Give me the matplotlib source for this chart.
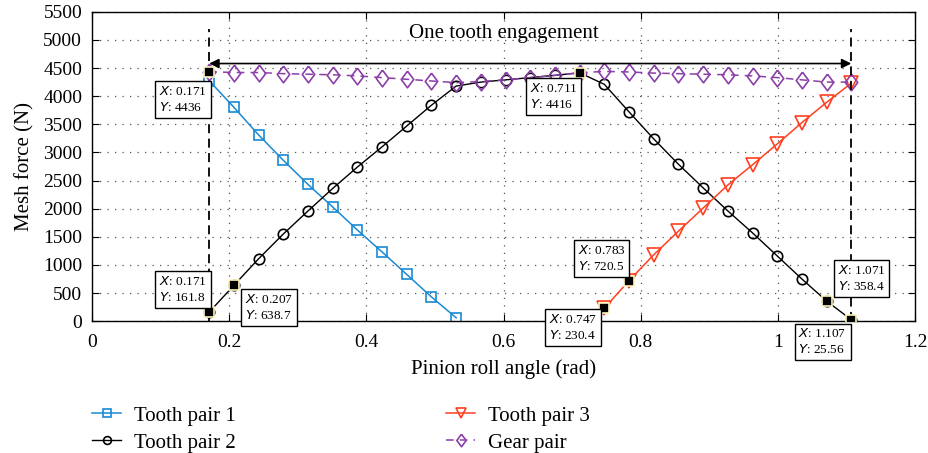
import numpy as np
import matplotlib.pyplot as plt

plt.rcParams['font.family'] = ['Liberation Serif', 'DejaVu Serif']

# Mesh force samples along the pinion roll angle
x_pair1 = [0.171, 0.207, 0.243, 0.279, 0.315, 0.351, 0.387, 0.423, 0.459, 0.495, 0.531]
f_pair1 = [4274, 3800, 3310, 2860, 2430, 2030, 1620, 1230, 830, 430, 60]

x_pair2 = [0.171, 0.207, 0.243, 0.279, 0.315, 0.351, 0.387, 0.423, 0.459, 0.495,
           0.531, 0.567, 0.603, 0.639, 0.675, 0.711, 0.747, 0.783, 0.819, 0.855,
           0.891, 0.927, 0.963, 0.999, 1.035, 1.071, 1.107]
f_pair2 = [161.8, 638.7, 1110, 1550, 1960, 2360, 2740, 3100, 3470, 3840,
           4180, 4250, 4290, 4330, 4370, 4416, 4210, 3720, 3240, 2790,
           2370, 1960, 1570, 1160, 750, 358.4, 25.56]

x_pair3 = [0.747, 0.783, 0.819, 0.855, 0.891, 0.927, 0.963, 0.999, 1.035, 1.071, 1.107]
f_pair3 = [230.4, 720.5, 1180, 1600, 2010, 2420, 2780, 3150, 3530, 3890, 4230]

x_gear = x_pair2
f_gear = [4436, 4420, 4420, 4400, 4390, 4380, 4360, 4330, 4300, 4270,
          4240, 4260, 4290, 4330, 4370, 4416, 4440, 4430, 4410, 4400,
          4390, 4380, 4360, 4330, 4290, 4250, 4250]

# data tips: (x, y, text offset in points)
tips_x = [0.171, 0.171, 0.207, 0.711, 0.783, 0.747, 1.071, 1.107]
tips_y = [4436, 161.8, 638.7, 4416, 720.5, 230.4, 358.4, 25.56]
tips_off = [(-36, -20), (-36, 16), (8, -16), (-36, -17), (-37, 16), (-40, -14), (8, 16), (-38, -16)]

engage_start, engage_end = 0.171, 1.107

fig = plt.figure(figsize=(9.29, 4.53), dpi=100)
ax = fig.add_axes([0.099, 0.291, 0.886, 0.683])

blue = '#1a8ad4'
red = '#ff4020'
purple = '#8b3fa8'
diamond = [(0, 1), (0.75, 0), (0, -1), (-0.75, 0), (0, 1)]

l1, = ax.plot(x_pair1, f_pair1, color=blue, lw=1.1, marker='s', ms=7,
              mfc='none', mec=blue, mew=1.2, label='Tooth pair 1')
l2, = ax.plot(x_pair2, f_pair2, color='black', lw=1.0, marker='o', ms=7.5,
              mfc='none', mec='black', mew=1.2, label='Tooth pair 2')
l3, = ax.plot(x_pair3, f_pair3, color=red, lw=1.1, marker='v', ms=10.5,
              mfc='none', mec=red, mew=1.2, label='Tooth pair 3')
l4, = ax.plot(x_gear, f_gear, color=purple, lw=1.1, ls=(0, (5, 4)), marker=diamond, ms=12,
              mfc='none', mec=purple, mew=1.2, label='Gear pair')

# engagement boundaries and arrow
for xv in (engage_start, engage_end):
    ax.plot([xv, xv], [0, 5200], color='black', lw=1.3, ls=(0, (5, 3)), zorder=4)
ax.annotate('', xy=(engage_start, 4580), xytext=(engage_end, 4580),
            arrowprops=dict(arrowstyle='<|-|>', color='black', lw=1.2,
                            mutation_scale=14, shrinkA=0, shrinkB=0))
ax.text(0.6, 5120, 'One tooth engagement', ha='center', va='center', fontsize=15)

for tx, ty, off in zip(tips_x, tips_y, tips_off):
    ax.plot(tx, ty, marker='s', ms=6.5, mfc='black', mec='#fff7c0', mew=1.2, zorder=6)
    ax.annotate('$\\it{X}$: %g\n$\\it{Y}$: %g' % (tx, ty), xy=(tx, ty),
                xytext=off, textcoords='offset points', fontsize=9.5,
                ha='left', va='center', linespacing=1.3, zorder=7,
                bbox=dict(boxstyle='square,pad=0.3', fc='white', ec='black', lw=1.0),
                annotation_clip=False)

ax.set_xlim(0, 1.2)
ax.set_ylim(0, 5500)
ax.set_xticks([0, 0.2, 0.4, 0.6, 0.8, 1.0, 1.2])
ax.set_xticklabels(['0', '0.2', '0.4', '0.6', '0.8', '1', '1.2'])
ax.set_yticks(np.arange(0, 5501, 500))
ax.grid(True, color='#555555', ls=(0, (1, 5)), lw=0.9)
ax.tick_params(direction='in', labelsize=14, length=5, top=True, right=True)
ax.tick_params(axis='x', pad=9)
ax.tick_params(axis='y', pad=7)
for sp in ax.spines.values():
    sp.set_linewidth(1.0)
ax.set_xlabel('Pinion roll angle (rad)', fontsize=15, labelpad=6)
ax.set_ylabel('Mesh force (N)', fontsize=15, labelpad=6)

fig.legend(handles=[l1, l2, l3, l4], ncol=2, loc='upper left',
           bbox_to_anchor=(0.079, 0.145), frameon=False, fontsize=15,
           handlelength=1.4, columnspacing=10.1, labelspacing=0.35, handletextpad=0.6,
           markerscale=0.75)

fig.savefig('out.png', dpi=100)
